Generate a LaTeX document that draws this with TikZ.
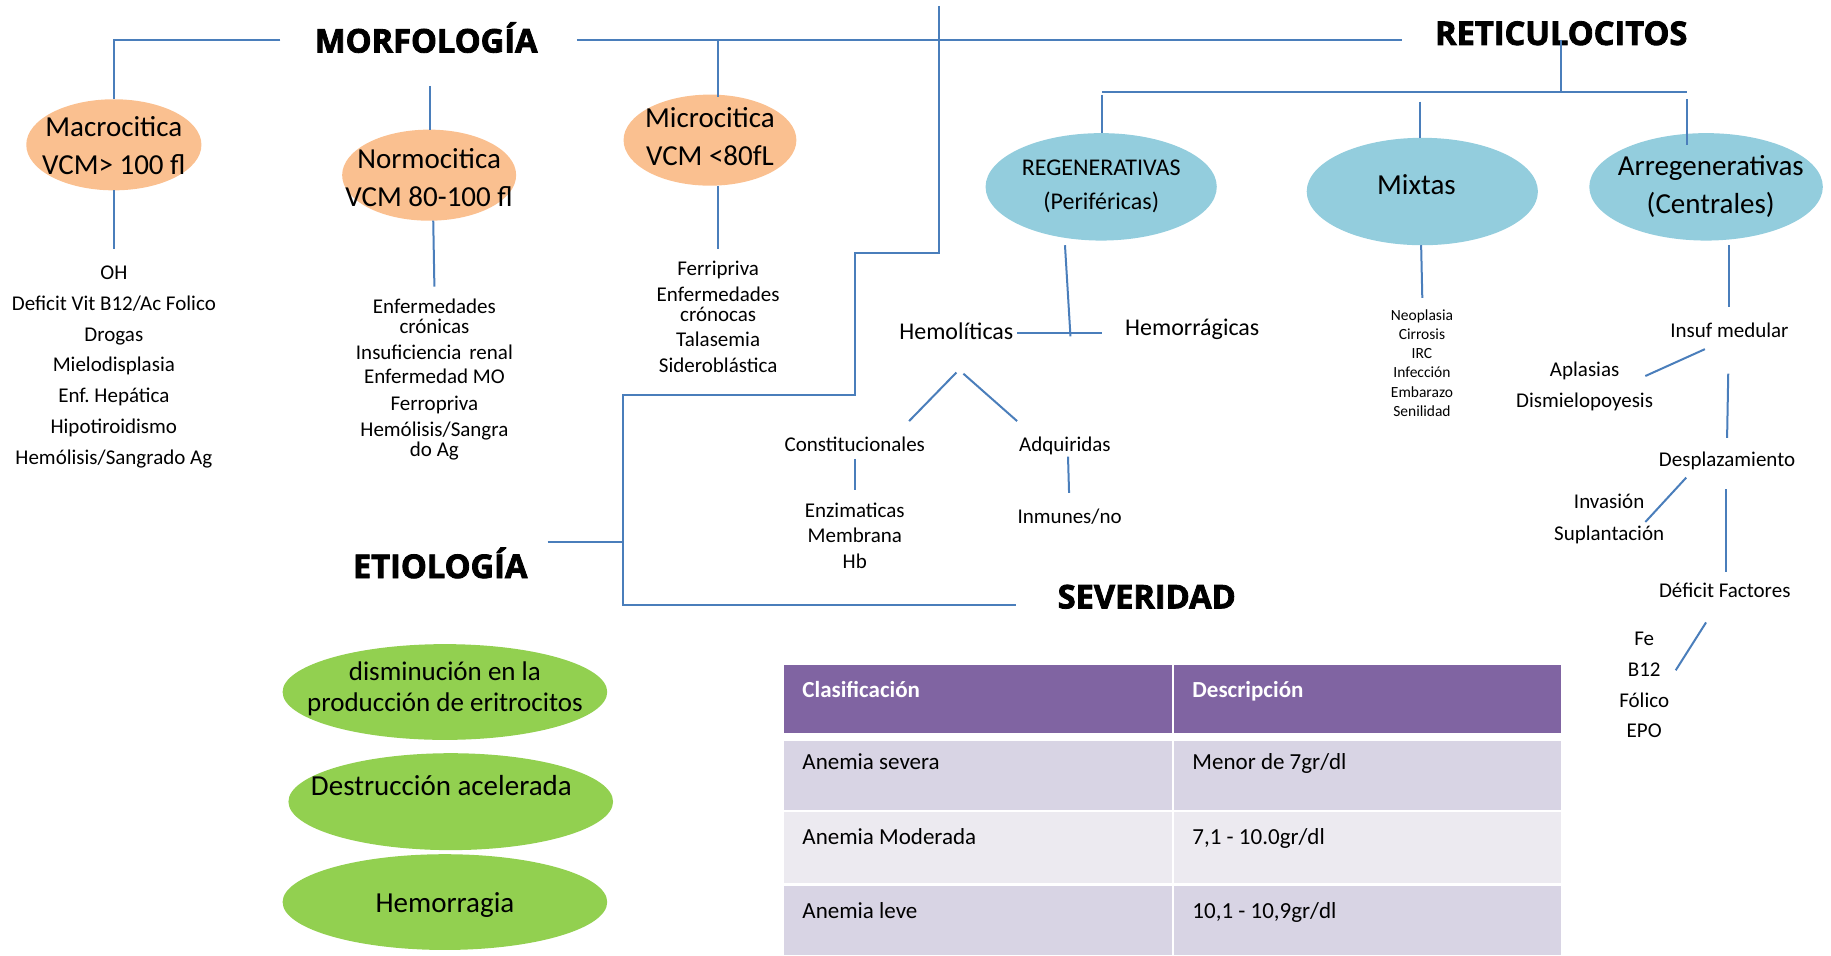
\documentclass[tikz,border=0pt]{standalone}
\usepackage{fontspec}
\setmainfont{Carlito}
\newfontfamily\headfont{Open Sans}[BoldFeatures={FakeBold=2.5}]
\usetikzlibrary{shapes.geometric}
\definecolor{lineblue}{RGB}{74,126,187}
\definecolor{orangefill}{RGB}{250,192,144}
\definecolor{bluefill}{RGB}{147,205,221}
\definecolor{greenfill}{RGB}{146,208,80}
\definecolor{purplehead}{RGB}{128,100,162}
\definecolor{rowdark}{RGB}{216,212,228}
\definecolor{rowlight}{RGB}{236,234,240}
\def\px{1.1677pt}
\frenchspacing
\begin{document}
\begin{tikzpicture}[x=1.1677pt,y=-1.1677pt,
  conn/.style={draw=lineblue,line width=2pt},
  ell/.style={ellipse,inner sep=0pt,draw=none},
  hd/.style={inner sep=0pt,font=\headfont\bfseries\fontsize{32.6}{36}\selectfont,text height=23.3pt,text depth=0pt},
  s29/.style={inner sep=0pt,font=\fontsize{29}{33}\selectfont,text height=18.7pt,text depth=0pt},
  s27/.style={inner sep=0pt,font=\fontsize{27}{31}\selectfont,text height=17.4pt,text depth=0pt},
  s24/.style={inner sep=0pt,font=\fontsize{24}{28}\selectfont,text height=15.5pt,text depth=0pt},
  s23/.style={inner sep=0pt,font=\fontsize{23}{27}\selectfont,text height=14.8pt,text depth=0pt},
  s23b/.style={inner sep=0pt,font=\bfseries\fontsize{23}{27}\selectfont,text height=14.8pt,text depth=0pt,text=white},
  s21/.style={inner sep=0pt,font=\fontsize{21}{25}\selectfont,text height=13.5pt,text depth=0pt},
  s15/.style={inner sep=0pt,font=\fontsize{15.5}{18}\selectfont,text height=10pt,text depth=0pt}
]
\useasboundingbox (0,0) rectangle (1568,818);

% ---------- headings ----------
\node[hd] (morf) at (365,35) {MORFOLOGÍA};
\node[hd] (etio) at (377,485) {ETIOLOGÍA};
\node[hd] (sev) at (982,511) {SEVERIDAD};

% ---------- morphology ellipses ----------
\node[ell,fill=orangefill,minimum width=150*\px,minimum height=78*\px] (macro) at (97.5,124) {};
\node[ell,fill=orangefill,minimum width=149*\px,minimum height=78*\px] (normo) at (367.5,150) {};
\node[ell,fill=orangefill,minimum width=148*\px,minimum height=78*\px] (micro) at (608,120) {};
\node[s29] (macroT1) at (97.5,108.5) {Macrocitica};
\node[s29] (macroT2) at (97.5,141.3) {VCM> 100 fl};
\node[s29] (normoT1) at (367.5,136.5) {Normocitica};
\node[s29] (normoT2) at (367.5,168.4) {VCM 80-100 fl};
\node[s29] (microT1) at (608,101) {Microcitica};
\node[s29] (microT2) at (608,133.6) {VCM <80fL};

% ---------- morphology lists ----------
\foreach \t [count=\i] in {OH,Deficit Vit B12/Ac Folico,Drogas,Mielodisplasia,Enf. Hepática,Hipotiroidismo,Hemólisis/Sangrado Ag}
  \node[s21] (macroL\i) at (97.5,{233.5+26.4*(\i-1)}) {\t};
\node[s21] (normoL1) at (372,262.6) {Enfermedades};
\node[s21] (normoL2) at (372,279.8) {crónicas};
\node[s21] (normoL3) at (372,301.7) {Insuficiencia\hspace{0.15em} renal};
\node[s21] (normoL4) at (372,323) {Enfermedad MO};
\node[s21] (normoL5) at (372,346) {Ferropriva};
\node[s21] (normoL6) at (372,368) {Hemólisis/Sangra};
\node[s21] (normoL7) at (372,385.4) {do Ag};
\node[s21] (microL1) at (615,229.8) {Ferripriva};
\node[s21] (microL2) at (615,252.6) {Enfermedades};
\node[s21] (microL3) at (615,269.8) {crónocas};
\node[s21] (microL4) at (615,291) {Talasemia};
\node[s21] (microL5) at (615,313) {Sideroblástica};

% ---------- morphology connectors ----------
\coordinate (mL) at (240,34.5);
\coordinate (mR) at (494,34.5);
\coordinate (topEnd) at (1201,34.5);
\coordinate (microA) at (615,34.5);
\coordinate (microB) at (615,83);
\coordinate (normoA) at (368,73.6);
\coordinate (normoB) at (368,111);
\coordinate (macroC) at (97.5,163);
\coordinate (macroD) at (97.5,213.5);
\coordinate (normoC) at (371,189);
\coordinate (normoD) at (372,245.5);
\coordinate (microC) at (615,159);
\coordinate (microD) at (615,213.5);
\draw[conn] (mL) -| (macro.north);
\draw[conn] (mR) -- (topEnd);
\draw[conn] (microA) -- (microB);
\draw[conn] (normoA) -- (normoB);
\draw[conn] (macroC) -- (macroD);
\draw[conn] (normoC) -- (normoD);
\draw[conn] (microC) -- (microD);

% ---------- etiology bracket ----------
\coordinate (e1) at (804,5);
\coordinate (e2) at (804,217);
\coordinate (e3) at (732,217);
\coordinate (e4) at (732,338);
\coordinate (e5) at (533.5,338);
\coordinate (e6) at (533.5,518);
\coordinate (e7) at (870,518);
\coordinate (etioR) at (469,464);
\coordinate (etioJ) at (533.5,464);
\draw[conn] (e1) -- (e2) -- (e3) -- (e4) -- (e5) -- (e6) -- (e7);
\draw[conn] (etioR) -- (etioJ);

% ---------- reticulocitos ----------
\node[hd] (retic) at (1337,28.5) {RETICULOCITOS};
\node[ell,fill=bluefill,minimum width=198*\px,minimum height=92*\px] (regen) at (943,160) {};
\node[ell,fill=bluefill,minimum width=198*\px,minimum height=92*\px] (mixtas) at (1218,164) {};
\node[ell,fill=bluefill,minimum width=200*\px,minimum height=92*\px] (arreg) at (1461,160) {};
\node[s24] (regenT1) at (943,144) {REGENERATIVAS};
\node[s24] (regenT2) at (943,172.7) {(Periféricas)};
\node[s29] (mixtasT) at (1213,158.4) {Mixtas};
\node[s29] (arregT1) at (1465,141.9) {Arregenerativas};
\node[s29] (arregT2) at (1465,174.7) {(Centrales)};

\coordinate (rA) at (1337,34);
\coordinate (rB) at (1337,78.5);
\coordinate (rL) at (943.5,78.5);
\coordinate (rR) at (1445,78.5);
\coordinate (reg1) at (943.5,81);
\coordinate (reg2) at (943.5,114);
\coordinate (mix1) at (1215.7,87);
\coordinate (mix2) at (1215.7,118);
\coordinate (arr1) at (1445,85);
\coordinate (arr2) at (1445,124);
\draw[conn] (rA) -- (rB);
\draw[conn] (rL) -- (rR);
\draw[conn] (reg1) -- (reg2);
\draw[conn] (mix1) -- (mix2);
\draw[conn] (arr1) -- (arr2);

% regenerativas branch
\node[s24] (hemol) at (819,284) {Hemolíticas};
\node[s24] (hemor) at (1021,281) {Hemorrágicas};
\node[s21] (const) at (732,381) {Constitucionales};
\node[s21] (adq) at (912,381) {Adquiridas};
\node[s21] (enz1) at (732,437) {Enzimaticas};
\node[s21] (enz2) at (732,459) {Membrana};
\node[s21] (enz3) at (732,481) {Hb};
\node[s21] (inm) at (916,442.5) {Inmunes/no};
\coordinate (rg1) at (912,210);
\coordinate (rg2) at (916.7,288);
\coordinate (hm1) at (871,285.4);
\coordinate (hm2) at (943.8,285.4);
\coordinate (hb1) at (819,319);
\coordinate (hb2) at (778.5,360.6);
\coordinate (hb3) at (825,320);
\coordinate (hb4) at (871,360.6);
\coordinate (cs1) at (732,393);
\coordinate (cs2) at (732,420);
\coordinate (aq1) at (914.6,391);
\coordinate (aq2) at (915.5,422);
\draw[conn] (rg1) -- (rg2);
\draw[conn] (hm1) -- (hm2);
\draw[conn] (hb1) -- (hb2);
\draw[conn] (hb3) -- (hb4);
\draw[conn] (cs1) -- (cs2);
\draw[conn] (aq1) -- (aq2);

% mixtas branch
\foreach \t [count=\i] in {Neoplasia,Cirrosis,IRC,Infección,Embarazo,Senilidad}
  \node[s15] (mixL\i) at (1217.7,{270+16.45*(\i-1)}) {\t};
\coordinate (mx1) at (1217,210);
\coordinate (mx2) at (1218,255);
\draw[conn] (mx1) -- (mx2);

% arregenerativas branch
\node[s21] (insuf) at (1481,283) {Insuf medular};
\node[s21] (apl) at (1357,316.3) {Aplasias};
\node[s21] (dism) at (1357,343) {Dismielopoyesis};
\node[s21] (despl) at (1479,394) {Desplazamiento};
\node[s21] (inv) at (1378,430) {Invasión};
\node[s21] (supl) at (1378,456.7) {Suplantación};
\node[s21] (defi) at (1477,505.9) {Déficit Factores};
\node[s21] (fe) at (1408,546.7) {Fe};
\node[s21] (b12) at (1408,573.2) {B12};
\node[s21] (fol) at (1408,600) {Fólico};
\node[s21] (epo) at (1408,625.5) {EPO};
\coordinate (ar1) at (1481,210);
\coordinate (ar2) at (1481,262.6);
\coordinate (ar3) at (1460,299);
\coordinate (ar4) at (1409,322);
\coordinate (ar5) at (1480,320);
\coordinate (ar6) at (1479,375);
\coordinate (ar7) at (1444,409);
\coordinate (ar8) at (1409,447);
\coordinate (ar9) at (1478,419);
\coordinate (ar10) at (1478,490);
\coordinate (ar11) at (1461,533);
\coordinate (ar12) at (1435,574);
\draw[conn] (ar1) -- (ar2);
\draw[conn] (ar3) -- (ar4);
\draw[conn] (ar5) -- (ar6);
\draw[conn] (ar7) -- (ar8);
\draw[conn] (ar9) -- (ar10);
\draw[conn] (ar11) -- (ar12);

% ---------- etiology ellipses ----------
\node[ell,fill=greenfill,minimum width=278*\px,minimum height=82*\px] (g1) at (381,592.6) {};
\node[ell,fill=greenfill,minimum width=278*\px,minimum height=83*\px] (g2) at (386,686.5) {};
\node[ell,fill=greenfill,minimum width=278*\px,minimum height=82*\px] (g3) at (381,772.5) {};
\node[s27] (g1T1) at (381,575) {disminución en la};
\node[s27] (g1T2) at (381,602) {producción de eritrocitos};
\node[s29] (g2T) at (378,673) {Destrucción acelerada};
\node[s29] (g3T) at (381,773.5) {Hemorragia};

% ---------- severity table ----------
\fill[purplehead] (671.4,569.5) rectangle (1003.4,627.5);
\fill[purplehead] (1005.4,569.5) rectangle (1337,627.5);
\fill[rowdark] (671.4,634.3) rectangle (1003.4,693.7);
\fill[rowdark] (1005.4,634.3) rectangle (1337,693.7);
\fill[rowlight] (671.4,695.7) rectangle (1003.4,756.5);
\fill[rowlight] (1005.4,695.7) rectangle (1337,756.5);
\fill[rowdark] (671.4,758.8) rectangle (1003.4,818);
\fill[rowdark] (1005.4,758.8) rectangle (1337,818);
\node[s23b,anchor=west] (h1) at (687,591) {Clasificación};
\node[s23b,anchor=west] (h2) at (1021,591) {Descripción};
\node[s23,anchor=west] (c11) at (687,653) {Anemia severa};
\node[s23,anchor=west] (c12) at (1021,653) {Menor de 7gr/dl};
\node[s23,anchor=west] (c21) at (687,716.5) {Anemia Moderada};
\node[s23,anchor=west] (c22) at (1021,716.5) {7,1 - 10.0gr/dl};
\node[s23,anchor=west] (c31) at (687,780) {Anemia leve};
\node[s23,anchor=west] (c32) at (1021,780) {10,1 - 10,9gr/dl};
\end{tikzpicture}
\end{document}
